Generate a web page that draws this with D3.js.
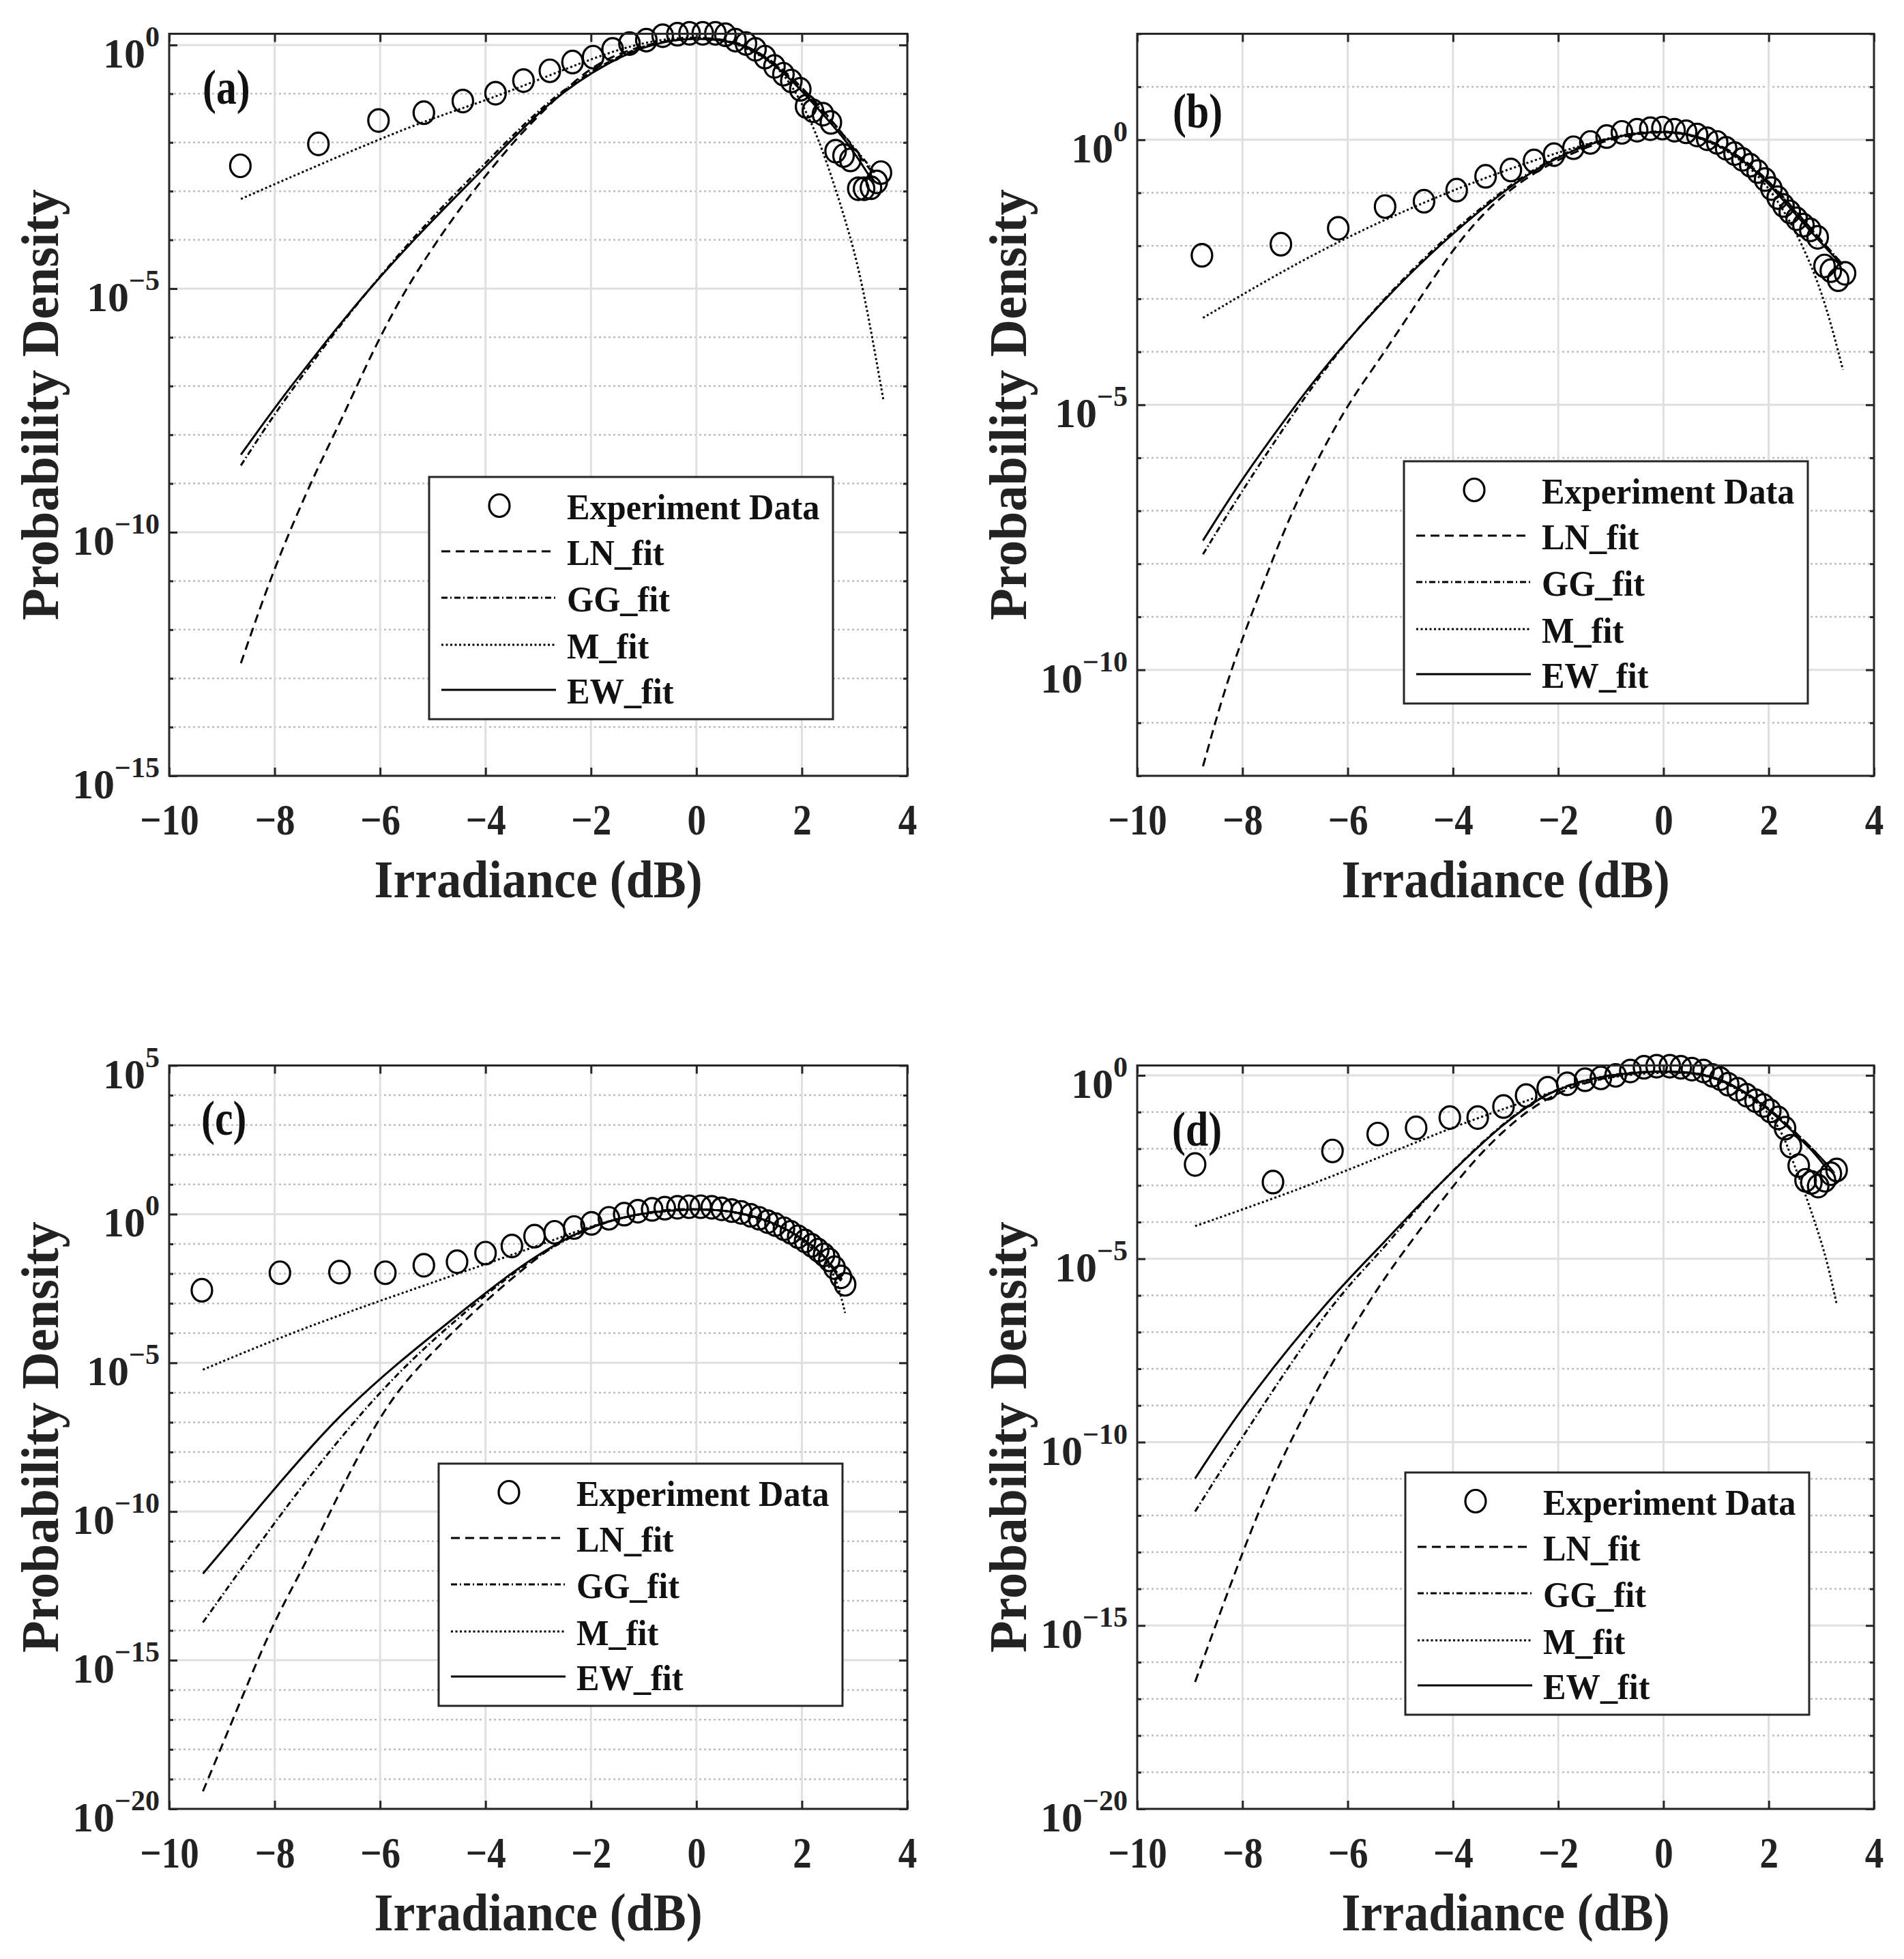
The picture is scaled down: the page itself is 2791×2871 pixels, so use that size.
<!DOCTYPE html>
<html>
<head>
<meta charset="utf-8">
<script src="https://cdnjs.cloudflare.com/ajax/libs/d3/7.8.5/d3.min.js"></script>
<style>
	body { margin: 0; background: #fff; }
	svg { display: block; font-family: "Liberation Serif", "Times New Roman", serif; font-weight: bold; }
</style>
</head>
<body>
<svg id="chart" width="2791" height="2871"></svg>
<script>
var xTicks = [-10, -8, -6, -4, -2, 0, 2, 4];
var legendLabels = ['Experiment Data', 'LN_fit', 'GG_fit', 'M_fit', 'EW_fit'];

// all series are [irradiance (dB), log10 of probability density]
// (a)
var expA = [[-8.65,-2.48],[-7.17,-2.03],[-6.03,-1.55],[-5.17,-1.39],[-4.43,-1.15],[-3.81,-0.99],[-3.28,-0.73],[-2.78,-0.53],[-2.35,-0.35],[-1.96,-0.25],[-1.59,-0.09],[-1.27,0.03],[-0.95,0.10],[-0.64,0.19],[-0.36,0.22],[-0.13,0.24],[0.12,0.24],[0.36,0.24],[0.55,0.21],[0.74,0.10],[0.94,0.03],[1.12,-0.09],[1.30,-0.25],[1.48,-0.44],[1.65,-0.60],[1.80,-0.74],[1.97,-0.91],[2.08,-1.26],[2.21,-1.35],[2.40,-1.42],[2.55,-1.59],[2.64,-2.18],[2.79,-2.27],[2.92,-2.36],[3.07,-2.95],[3.18,-2.95],[3.31,-2.93],[3.42,-2.81],[3.50,-2.62]];
var lnA = [[-8.64,-12.69],[-8.12,-11.06],[-7.65,-9.81],[-7.19,-8.69],[-6.73,-7.69],[-6.26,-6.56],[-5.68,-5.31],[-5.10,-4.31],[-4.52,-3.40],[-3.94,-2.60],[-3.36,-1.85],[-2.78,-1.22],[-2.20,-0.62],[-1.62,-0.22],[-0.80,0.06],[0.13,0.17],[0.80,0.07],[1.30,-0.22],[1.80,-0.64],[2.40,-1.33],[2.86,-1.94],[3.22,-2.46],[3.40,-2.70]];
var ggA = [[-8.64,-8.63],[-8.00,-7.56],[-7.19,-6.37],[-6.26,-5.06],[-5.10,-3.62],[-3.94,-2.36],[-2.78,-1.08],[-1.62,-0.28],[-0.80,0.07],[0.01,0.17],[0.80,0.07],[1.30,-0.23],[1.80,-0.67],[2.40,-1.37],[2.86,-1.92],[3.38,-2.62]];
var mA = [[-8.64,-3.16],[-7.50,-2.62],[-6.03,-1.94],[-5.00,-1.50],[-3.94,-1.12],[-2.78,-0.62],[-1.62,-0.13],[-0.80,0.10],[-0.11,0.17],[0.60,0.12],[1.30,-0.25],[1.65,-0.58],[1.93,-1.05],[2.19,-1.61],[2.45,-2.32],[2.84,-3.63],[3.14,-4.81],[3.55,-7.31]];
var ewA = [[-8.64,-8.41],[-8.00,-7.44],[-7.19,-6.31],[-6.26,-5.06],[-5.10,-3.69],[-3.94,-2.44],[-2.78,-1.12],[-1.62,-0.31],[-0.80,0.05],[0.01,0.16],[0.80,0.06],[1.30,-0.25],[1.80,-0.70],[2.40,-1.42],[2.86,-1.98],[3.31,-2.74]];

// (b)
var expB = [[-8.77,-2.18],[-7.27,-1.97],[-6.18,-1.67],[-5.29,-1.26],[-4.55,-1.16],[-3.93,-0.95],[-3.38,-0.69],[-2.90,-0.57],[-2.46,-0.40],[-2.08,-0.28],[-1.71,-0.15],[-1.39,-0.05],[-1.08,0.06],[-0.79,0.14],[-0.50,0.18],[-0.25,0.21],[-0.02,0.22],[0.21,0.18],[0.43,0.15],[0.64,0.09],[0.83,0.02],[1.02,-0.05],[1.19,-0.16],[1.35,-0.26],[1.50,-0.37],[1.65,-0.48],[1.79,-0.60],[1.93,-0.75],[2.05,-0.92],[2.17,-1.09],[2.28,-1.24],[2.40,-1.36],[2.53,-1.49],[2.66,-1.61],[2.79,-1.70],[2.93,-1.84],[3.06,-2.38],[3.18,-2.47],[3.32,-2.64],[3.45,-2.52]];
var lnB = [[-8.75,-11.82],[-8.27,-10.11],[-7.70,-8.62],[-7.12,-7.13],[-6.55,-5.98],[-5.97,-4.94],[-5.39,-4.14],[-4.70,-3.10],[-4.01,-2.07],[-3.32,-1.26],[-2.52,-0.63],[-1.37,-0.06],[-0.20,0.19],[0.60,0.11],[1.30,-0.20],[1.90,-0.66],[2.50,-1.33],[3.00,-1.90],[3.40,-2.35]];
var ggB = [[-8.75,-7.82],[-8.04,-6.67],[-7.12,-5.29],[-6.32,-4.16],[-5.39,-3.08],[-4.47,-2.14],[-3.55,-1.34],[-2.52,-0.55],[-1.37,-0.01],[-0.20,0.20],[0.60,0.11],[1.30,-0.20],[1.90,-0.67],[2.50,-1.35],[3.00,-1.90],[3.40,-2.35]];
var mB = [[-8.75,-3.36],[-6.55,-2.07],[-4.24,-1.03],[-2.52,-0.40],[-1.30,-0.02],[-0.20,0.18],[0.60,0.10],[1.30,-0.24],[1.90,-0.74],[2.43,-1.55],[2.89,-2.53],[3.18,-3.45],[3.41,-4.34]];
var ewB = [[-8.75,-7.56],[-8.04,-6.44],[-7.12,-5.17],[-6.32,-4.14],[-5.39,-3.10],[-4.47,-2.18],[-3.55,-1.38],[-2.52,-0.57],[-1.37,-0.02],[-0.20,0.19],[0.60,0.10],[1.30,-0.22],[1.90,-0.70],[2.50,-1.40],[3.00,-1.95],[3.38,-2.35]];

// (c)
var expC = [[-9.38,-2.56],[-7.90,-1.97],[-6.77,-1.95],[-5.90,-1.97],[-5.17,-1.72],[-4.54,-1.60],[-4.00,-1.31],[-3.50,-1.07],[-3.07,-0.74],[-2.69,-0.61],[-2.32,-0.45],[-1.99,-0.31],[-1.66,-0.14],[-1.37,0.00],[-1.11,0.10],[-0.84,0.16],[-0.60,0.20],[-0.36,0.23],[-0.14,0.25],[0.08,0.25],[0.29,0.23],[0.48,0.18],[0.67,0.12],[0.85,0.06],[1.03,-0.04],[1.19,-0.14],[1.35,-0.25],[1.50,-0.35],[1.66,-0.49],[1.79,-0.61],[1.93,-0.76],[2.06,-0.90],[2.19,-1.05],[2.31,-1.21],[2.42,-1.37],[2.52,-1.54],[2.62,-1.80],[2.74,-2.11],[2.82,-2.36]];
var lnC = [[-9.36,-19.41],[-8.58,-16.09],[-8.00,-13.63],[-7.42,-11.78],[-6.96,-10.04],[-6.26,-7.58],[-5.68,-5.94],[-5.10,-4.82],[-4.52,-3.79],[-3.94,-2.83],[-3.36,-1.95],[-2.78,-1.13],[-2.20,-0.55],[-1.62,-0.20],[-0.80,0.12],[-0.10,0.20],[0.80,0.10],[1.50,-0.30],[2.00,-0.80],[2.40,-1.30],[2.76,-2.20]];
var ggC = [[-9.36,-13.73],[-8.00,-10.35],[-6.84,-7.68],[-5.68,-5.33],[-4.52,-3.48],[-3.36,-1.78],[-2.20,-0.53],[-1.20,0.02],[-0.10,0.20],[0.80,0.10],[1.50,-0.30],[2.00,-0.80],[2.40,-1.30],[2.76,-2.20]];
var mC = [[-9.36,-5.23],[-7.42,-3.79],[-5.10,-2.36],[-3.94,-1.64],[-2.78,-0.92],[-1.87,-0.31],[-1.00,0.05],[0.10,0.20],[0.80,0.08],[1.50,-0.35],[2.00,-0.85],[2.40,-1.45],[2.65,-2.10],[2.82,-3.32]];
var ewC = [[-9.36,-12.09],[-8.00,-9.22],[-6.84,-6.86],[-5.68,-5.02],[-4.52,-3.38],[-3.36,-1.74],[-2.20,-0.51],[-1.20,0.02],[-0.10,0.20],[0.80,0.10],[1.50,-0.30],[2.00,-0.80],[2.40,-1.30],[2.74,-2.25]];

// (d)
var expD = [[-8.90,-2.43],[-7.42,-2.91],[-6.29,-2.06],[-5.43,-1.60],[-4.70,-1.43],[-4.06,-1.15],[-3.53,-1.15],[-3.04,-0.85],[-2.61,-0.55],[-2.20,-0.35],[-1.83,-0.23],[-1.49,-0.12],[-1.19,-0.07],[-0.91,0.00],[-0.63,0.12],[-0.37,0.22],[-0.13,0.25],[0.12,0.25],[0.33,0.22],[0.54,0.17],[0.76,0.12],[0.93,0.00],[1.08,-0.09],[1.23,-0.24],[1.41,-0.38],[1.58,-0.54],[1.75,-0.69],[1.90,-0.82],[2.03,-0.97],[2.18,-1.16],[2.31,-1.44],[2.42,-1.93],[2.57,-2.46],[2.70,-2.86],[2.81,-2.92],[2.94,-3.02],[3.07,-2.86],[3.18,-2.68],[3.29,-2.58]];
var lnD = [[-8.90,-16.54],[-7.93,-12.69],[-7.24,-10.36],[-6.32,-7.86],[-5.40,-5.70],[-4.71,-4.37],[-4.02,-3.04],[-3.33,-1.88],[-2.41,-0.71],[-1.40,-0.12],[-0.50,0.08],[0.10,0.12],[0.80,0.06],[1.40,-0.30],[2.00,-0.88],[2.50,-1.55],[2.85,-2.02],[3.25,-2.66]];
var ggD = [[-8.90,-11.89],[-7.93,-9.69],[-6.32,-6.20],[-5.40,-4.87],[-4.71,-3.65],[-3.90,-2.44],[-3.10,-1.36],[-2.17,-0.37],[-1.00,0.06],[0.01,0.13],[0.80,0.06],[1.40,-0.30],[2.00,-0.88],[2.50,-1.55],[2.85,-2.02],[3.25,-2.66]];
var mD = [[-8.90,-4.11],[-6.50,-2.90],[-4.06,-1.43],[-3.00,-0.90],[-2.00,-0.38],[-1.00,-0.02],[0.00,0.10],[0.80,0.05],[1.40,-0.35],[2.00,-0.95],[2.30,-1.70],[2.42,-2.20],[2.68,-3.17],[2.90,-4.10],[3.10,-5.00],[3.29,-6.23]];
var ewD = [[-8.90,-10.99],[-7.93,-8.86],[-6.32,-6.03],[-5.40,-4.70],[-4.71,-3.62],[-3.90,-2.46],[-3.10,-1.38],[-2.17,-0.38],[-1.00,0.05],[0.01,0.12],[0.80,0.05],[1.40,-0.32],[2.00,-0.90],[2.50,-1.60],[2.80,-2.00],[3.11,-2.55]];

// panel layout (pixels) and log10 limits of the y axis
var panels = [
	{ tag: '(a)', left: 248, right: 1330, top: 49.5, bottom: 1137, yMin: -15, yMax: 0.23, tagX: 297, tagY: 152, legX: 629, legY: 699,
		exp: expA, fits: [lnA, ggA, mA, ewA] },
	{ tag: '(b)', left: 1667, right: 2747, top: 49.5, bottom: 1137, yMin: -12, yMax: 2, tagX: 1719, tagY: 187, legX: 2058, legY: 676,
		exp: expB, fits: [lnB, ggB, mB, ewB] },
	{ tag: '(c)', left: 248, right: 1330, top: 1561.5, bottom: 2651, yMin: -20, yMax: 5, tagX: 295, tagY: 1663, legX: 643, legY: 2145,
		exp: expC, fits: [lnC, ggC, mC, ewC] },
	{ tag: '(d)', left: 1667, right: 2747, top: 1561.5, bottom: 2651, yMin: -20, yMax: 0.27, tagX: 1718, tagY: 1679, legX: 2060, legY: 2158,
		exp: expD, fits: [lnD, ggD, mD, ewD] }
];

// LN, GG, M, EW
var fitDash = ['13,8', '9,4,2,4', '3,3.5', null];
var axisColor = '#262626';

var svg = d3.select('#chart');

function minus(v) {
	return v < 0 ? '\u2212' + (-v) : String(v);
}

// the picture is a bit stretched vertically, so markers are slightly tall
function marker(sel) {
	return sel.attr('rx', 15).attr('ry', 16.5)
		.attr('fill', 'none')
		.attr('stroke', '#000')
		.attr('stroke-width', 3.2);
}

function drawPanel(p) {
	var g = svg.append('g');
	var x = d3.scaleLinear().domain([-10, 4]).range([p.left, p.right]);
	var y = d3.scaleLog().domain([Math.pow(10, p.yMin), Math.pow(10, p.yMax)]).range([p.bottom, p.top]);
	var py = function(d) { return y(Math.pow(10, d[1])); };

	var decades = d3.range(Math.ceil(p.yMin), Math.floor(p.yMax) + 1);
	var major = decades.filter(function(k) { return k % 5 === 0; });
	var minor = decades.filter(function(k) { return k % 5 !== 0; });

	// grid: dotted minor decades, light solid majors
	g.selectAll('.minorGrid').data(minor).enter().append('line')
		.attr('x1', p.left).attr('x2', p.right)
		.attr('y1', function(k) { return y(Math.pow(10, k)); })
		.attr('y2', function(k) { return y(Math.pow(10, k)); })
		.attr('stroke', '#bdbdbd').attr('stroke-width', 2.5).attr('stroke-dasharray', '3,4');
	g.selectAll('.majorGrid').data(major).enter().append('line')
		.attr('x1', p.left).attr('x2', p.right)
		.attr('y1', function(k) { return y(Math.pow(10, k)); })
		.attr('y2', function(k) { return y(Math.pow(10, k)); })
		.attr('stroke', '#dfdfdf').attr('stroke-width', 3);
	g.selectAll('.xGrid').data(xTicks.slice(1, -1)).enter().append('line')
		.attr('x1', x).attr('x2', x)
		.attr('y1', p.top).attr('y2', p.bottom)
		.attr('stroke', '#dfdfdf').attr('stroke-width', 3);

	// fits
	var line = d3.line()
		.x(function(d) { return x(d[0]); })
		.y(py)
		.curve(d3.curveBasis);
	p.fits.forEach(function(fit, i) {
		g.append('path')
			.datum(fit)
			.attr('d', line)
			.attr('fill', 'none')
			.attr('stroke', '#000')
			.attr('stroke-width', 3)
			.attr('stroke-dasharray', fitDash[i]);
	});

	// experiment data
	g.selectAll('.exp').data(p.exp).enter().append('ellipse')
		.attr('cx', function(d) { return x(d[0]); })
		.attr('cy', py)
		.call(marker);

	// axes, ticks pointing inwards
	var h = p.bottom - p.top, w = p.right - p.left;
	var bottomAxis = g.append('g').attr('transform', 'translate(0,' + p.bottom + ')')
		.call(d3.axisBottom(x).tickValues(xTicks).tickSize(-12).tickSizeOuter(0).tickFormat(minus));
	g.append('g').attr('transform', 'translate(0,' + p.top + ')')
		.call(d3.axisTop(x).tickValues(xTicks).tickSize(-12).tickSizeOuter(0).tickFormat(''));
	[[major, 12], [minor, 6]].forEach(function(set) {
		var vals = set[0].map(function(k) { return Math.pow(10, k); });
		g.append('g').attr('transform', 'translate(' + p.left + ',0)')
			.call(d3.axisLeft(y).tickValues(vals).tickSize(-set[1]).tickSizeOuter(0).tickFormat(''));
		g.append('g').attr('transform', 'translate(' + p.right + ',0)')
			.call(d3.axisRight(y).tickValues(vals).tickSize(-set[1]).tickSizeOuter(0).tickFormat(''));
	});
	g.selectAll('.domain').remove();
	g.selectAll('.tick line').attr('stroke', axisColor).attr('stroke-width', 3);

	bottomAxis.attr('font-family', null).attr('font-size', null);
	bottomAxis.selectAll('text')
		.attr('y', 0).attr('dy', null)
		.attr('transform', 'translate(0,86) scale(0.86,1)')
		.attr('font-size', 64)
		.attr('fill', '#222');

	g.append('rect')
		.attr('x', p.left).attr('y', p.top)
		.attr('width', w).attr('height', h)
		.attr('fill', 'none')
		.attr('stroke', axisColor)
		.attr('stroke-width', 3);

	// y tick labels 10^k
	g.selectAll('.ylab').data(major).enter().append('text')
		.attr('transform', function(k) {
			return 'translate(' + (p.left - 14) + ',' + (y(Math.pow(10, k)) + 33) + ')';
		})
		.attr('text-anchor', 'end')
		.attr('fill', '#222')
		.each(function(k) {
			var t = d3.select(this);
			t.append('tspan').attr('font-size', 62).text('10');
			t.append('tspan').attr('font-size', 42).attr('dy', -31).text(minus(k));
		});

	// axis titles
	g.append('text')
		.attr('transform', 'translate(' + (p.left + w / 2) + ',' + (p.bottom + 178) + ') scale(0.91,1)')
		.attr('text-anchor', 'middle')
		.attr('font-size', 79)
		.attr('fill', '#222')
		.text('Irradiance (dB)');
	g.append('text')
		.attr('transform', 'translate(' + (p.left - 163) + ',' + (p.top + h / 2) + ') rotate(-90) scale(0.965,1)')
		.attr('text-anchor', 'middle')
		.attr('font-size', 79)
		.attr('fill', '#222')
		.text('Probability Density');

	// panel tag
	g.append('text')
		.attr('transform', 'translate(' + p.tagX + ',' + p.tagY + ') scale(0.83,1)')
		.attr('font-size', 72)
		.attr('fill', '#111')
		.text(p.tag);

	drawLegend(g, p.legX, p.legY);
}

function drawLegend(g, lx, ly) {
	var leg = g.append('g').attr('transform', 'translate(' + lx + ',' + ly + ')');
	leg.append('rect')
		.attr('width', 592).attr('height', 355)
		.attr('fill', '#fff')
		.attr('stroke', axisColor)
		.attr('stroke-width', 3);

	var baselines = [62, 129, 197, 266, 332];
	leg.append('ellipse')
		.attr('cx', 103).attr('cy', 42)
		.call(marker);
	fitDash.forEach(function(dash, i) {
		var ly2 = baselines[i + 1] - 20;
		leg.append('line')
			.attr('x1', 18).attr('x2', 186)
			.attr('y1', ly2).attr('y2', ly2)
			.attr('stroke', '#000')
			.attr('stroke-width', 3)
			.attr('stroke-dasharray', dash);
	});
	leg.selectAll('.legText').data(legendLabels).enter().append('text')
		.attr('transform', function(d, i) { return 'translate(202,' + baselines[i] + ') scale(0.95,1)'; })
		.attr('font-size', 53)
		.attr('fill', '#111')
		.text(function(d) { return d; });
}

panels.forEach(drawPanel);
</script>
</body>
</html>
